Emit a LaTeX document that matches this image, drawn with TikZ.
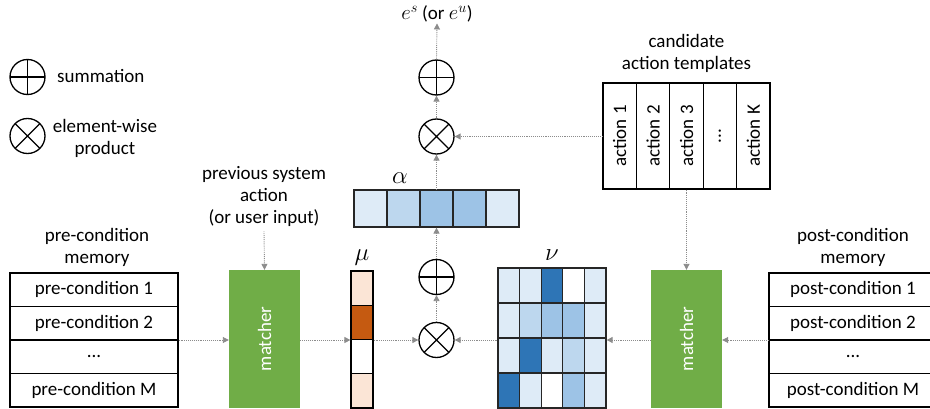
\documentclass[tikz,border=0pt]{standalone}
\usepackage{fontspec}
\setmainfont{Carlito}
\usetikzlibrary{arrows.meta}
\definecolor{bA}{HTML}{DEEBF7}
\definecolor{bB}{HTML}{BDD7EE}
\definecolor{bC}{HTML}{9DC3E6}
\definecolor{bD}{HTML}{2E75B6}
\definecolor{oA}{HTML}{FBE5D6}
\definecolor{oD}{HTML}{C55A11}
\definecolor{mgreen}{HTML}{70AD47}
\definecolor{arrowgray}{HTML}{8C8C8C}
\definecolor{cellborder}{HTML}{262626}
\newcommand{\mathbig}[1]{{\fontsize{24.88}{27}\selectfont$#1$}}
\newcommand{\mathmid}[1]{{\fontsize{20.74}{24}\selectfont$#1$}}
\begin{document}
\begin{tikzpicture}[x=1pt,y=1pt,font=\fontsize{19}{22}\selectfont,
  conn/.style={draw=arrowgray,densely dotted,line width=0.9pt,-{Triangle[width=6pt,length=6pt,fill=arrowgray]}},
  opcircle/.style={circle,draw=black,line width=1.3pt,minimum size=35pt,inner sep=0pt},
  sumop/.style={opcircle,path picture={\draw[line width=1.3pt] (path picture bounding box.north)--(path picture bounding box.south) (path picture bounding box.west)--(path picture bounding box.east);}},
  prodop/.style={opcircle,path picture={\draw[line width=1.3pt] (path picture bounding box.north west)--(path picture bounding box.south east) (path picture bounding box.south west)--(path picture bounding box.north east);}},
  memcell/.style={draw=black,line width=1.2pt,minimum width=168pt,minimum height=33.5pt,inner sep=0pt},
  postcell/.style={memcell,minimum width=168pt},
  acell/.style={draw=cellborder,line width=1.2pt,minimum width=33pt,minimum height=37pt,inner sep=0pt},
  mucell/.style={draw=black,line width=1.2pt,minimum width=22pt,minimum height=34.25pt,inner sep=0pt},
  nucell/.style={draw=cellborder,line width=1.3pt,minimum width=21.6pt,minimum height=35pt,inner sep=0pt},
  actcell/.style={draw=black,line width=1.2pt,minimum width=33.4pt,minimum height=106pt,inner sep=0pt},
  matcher/.style={fill=mgreen,minimum width=71pt,minimum height=138pt,inner sep=0pt},
  lbl/.style={align=center,inner sep=1pt},
  mathlbl/.style={inner sep=1pt}
]
\useasboundingbox (0,0) rectangle (930,408);

% legend
\node[sumop] (lsum) at (27.5,331) {};
\node[anchor=west,inner sep=0pt] (lsumt) at (57,332) {summation};
\node[prodop] (lprod) at (27.5,272) {};
\node[lbl] (lprodt) at (105,270) {element-wise\\product};

% top column
\node[lbl] (eout) at (437,394) {\mathmid{e^s} (or \mathmid{e^u})};
\node[sumop] (sumT) at (436.5,330.5) {};
\node[prodop] (prodT) at (436.5,271.5) {};

% alpha
\node[mathlbl] (alab) at (400,230) {\mathbig{\alpha}};
\node[acell,fill=bA] (a1) at (370.5,199.5) {};
\node[acell,fill=bB] (a2) at (403.5,199.5) {};
\node[acell,fill=bC] (a3) at (436.5,199.5) {};
\node[acell,fill=bC] (a4) at (469.5,199.5) {};
\node[acell,fill=bA] (a5) at (502.5,199.5) {};

% bottom ops
\node[sumop] (sumB) at (436.5,131) {};
\node[prodop] (prodB) at (436.5,68) {};

% mu
\node[mathlbl] (mulab) at (362,150) {\mathbig{\mu}};
\node[mucell,fill=oA] (mu1) at (362,119.9) {};
\node[mucell,fill=oD] (mu2) at (362,85.6) {};
\node[mucell,fill=white] (mu3) at (362,51.4) {};
\node[mucell,fill=oA] (mu4) at (362,17.1) {};

% nu
\node[mathlbl] (nulab) at (552,153) {\mathbig{\nu}};
\foreach \r/\y/\ca/\cb/\cc/\cd/\ce in {1/122.5/bA/bA/bD/white/bA, 2/87.5/bA/bB/bC/bC/bA, 3/52.5/bA/bD/bA/bB/bA, 4/17.5/bD/bA/white/bC/bA}{
  \node[nucell,fill=\ca] (nu\r1) at (508.8,\y) {};
  \node[nucell,fill=\cb] (nu\r2) at (530.4,\y) {};
  \node[nucell,fill=\cc] (nu\r3) at (552,\y) {};
  \node[nucell,fill=\cd] (nu\r4) at (573.6,\y) {};
  \node[nucell,fill=\ce] (nu\r5) at (595.2,\y) {};
}

% matchers
\node[matcher] (lm) at (264.5,69) {};
\node[rotate=90,text=white] (lmt) at (264.5,69) {matcher};
\node[matcher] (rm) at (686.5,69) {};
\node[rotate=90,text=white] (rmt) at (686.5,69) {matcher};

% pre-condition memory
\node[lbl] (prelab) at (97,160.5) {pre-condition\\memory};
\node[memcell] (pre1) at (94,118.25) {pre-condition 1};
\node[memcell] (pre2) at (94,84.75) {pre-condition 2};
\node[memcell] (pre3) at (94,51.25) {...};
\node[memcell] (pre4) at (94,17.75) {pre-condition M};

% post-condition memory
\node[lbl] (postlab) at (853,160.5) {post-condition\\memory};
\node[postcell] (post1) at (853,118.25) {post-condition 1};
\node[postcell] (post2) at (853,84.75) {post-condition 2};
\node[postcell] (post3) at (853,51.25) {...};
\node[postcell] (post4) at (853,17.75) {post-condition M};

% previous system action
\node[lbl] (prev) at (264,212) {previous system\\action\\(or user input)};

% candidate action templates
\node[lbl] (candlab) at (686.5,355) {candidate\\action templates};
\node[actcell] (c1) at (619.7,272) {};
\node[actcell] (c2) at (653.1,272) {};
\node[actcell] (c3) at (686.5,272) {};
\node[actcell] (c4) at (719.9,272) {};
\node[actcell] (c5) at (753.3,272) {};
\node[rotate=90] (c1t) at (c1) {action 1};
\node[rotate=90] (c2t) at (c2) {action 2};
\node[rotate=90] (c3t) at (c3) {action 3};
\node[rotate=90] (c4t) at (c4) {...};
\node[rotate=90] (c5t) at (c5) {action K};

% connectors
\draw[conn] (sumT.north) -- (eout.south);
\draw[conn] (prodT.north) -- (sumT.south);
\draw[conn] (prodT.east -| c1.west) -- (prodT.east);
\draw[conn] (a3.north) -- (prodT.south);
\draw[conn] (sumB.north) -- (a3.south);
\draw[conn] (prodB.north) -- (sumB.south);
\draw[conn] (prodB.west -| mu1.east) -- (prodB.west);
\draw[conn] (prodB.east -| nu11.west) -- (prodB.east);
\draw[conn] (lm.east |- prodB.west) -- (prodB.west -| mu1.west);
\draw[conn] (rm.west |- prodB.east) -- (prodB.east -| nu15.east);
\draw[conn] (pre1.east |- prodB.west) -- (prodB.west -| lm.west);
\draw[conn] (post1.west |- prodB.east) -- (prodB.east -| rm.east);
\draw[conn] ([yshift=-4pt]prev.south) -- (lm.north);
\draw[conn] (c3.south) -- (rm.north);
\end{tikzpicture}
\end{document}
